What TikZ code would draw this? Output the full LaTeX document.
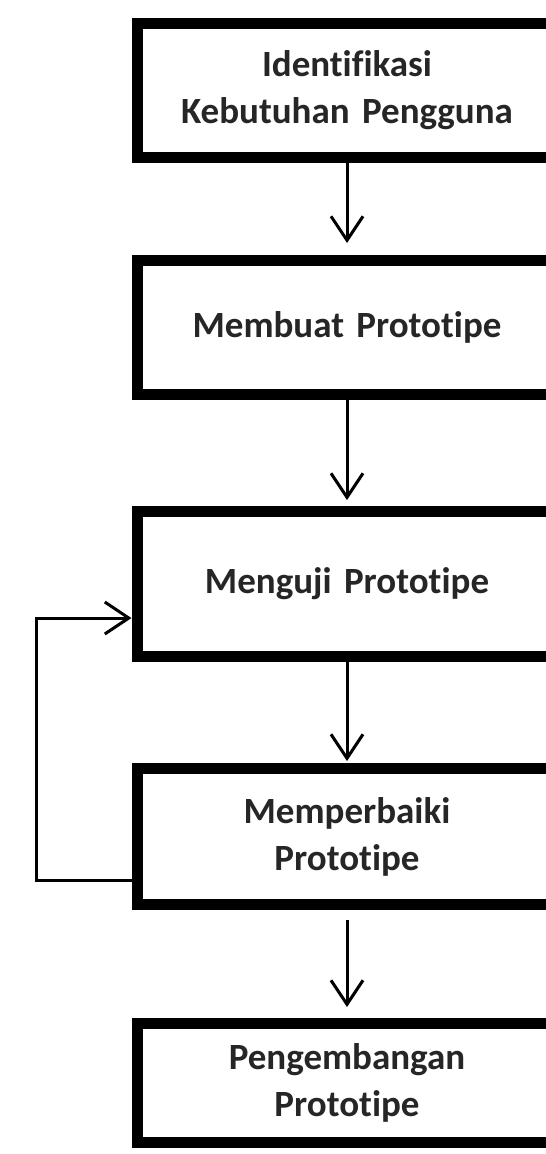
\documentclass[tikz,border=0pt]{standalone}
\usepackage{fontspec}
\setmainfont{Carlito}[Ligatures=NoCommon,WordSpace=0.8]
\usetikzlibrary{positioning,arrows.meta}

\begin{document}
\begin{tikzpicture}[
block/.style={rectangle,draw,line width=11pt,fill=white,text width=400pt,align=center,minimum width=420pt,font=\fontsize{37}{47}\selectfont\bfseries,text=black!85},
line/.style={draw,line width=3pt,-{Straight Barb[length=24pt,width=32pt]}}]

\clip (0,0) rectangle (546pt,-1154pt);

\node [block, minimum height=134pt] (ident) at (347pt,-90.5pt) {Identifikasi\\Kebutuhan Pengguna};
\node [block, minimum height=134pt, below=92pt of ident] (buat) {Membuat Prototipe};
\node [block, minimum height=145pt, below=106pt of buat] (uji) {Menguji Prototipe};
\node [block, minimum height=136pt, below=101pt of uji] (baik) {Memperbaiki\\Prototipe};
\node [block, minimum height=119pt, below=108pt of baik] (kembang) {Pengembangan\\Prototipe};

\path [line, shorten >=12pt] (ident) -- (buat);
\path [line, shorten >=6pt] (buat) -- (uji);
\path [line, shorten >=2pt] (uji) -- (baik);
\path [line, shorten <=10pt, shorten >=11pt] (baik) -- (kembang);

\path [line] ([yshift=-43.5pt]baik.west) -- ++(-95pt,0) |- ([yshift=-34pt]uji.west);
\end{tikzpicture}
\end{document}
